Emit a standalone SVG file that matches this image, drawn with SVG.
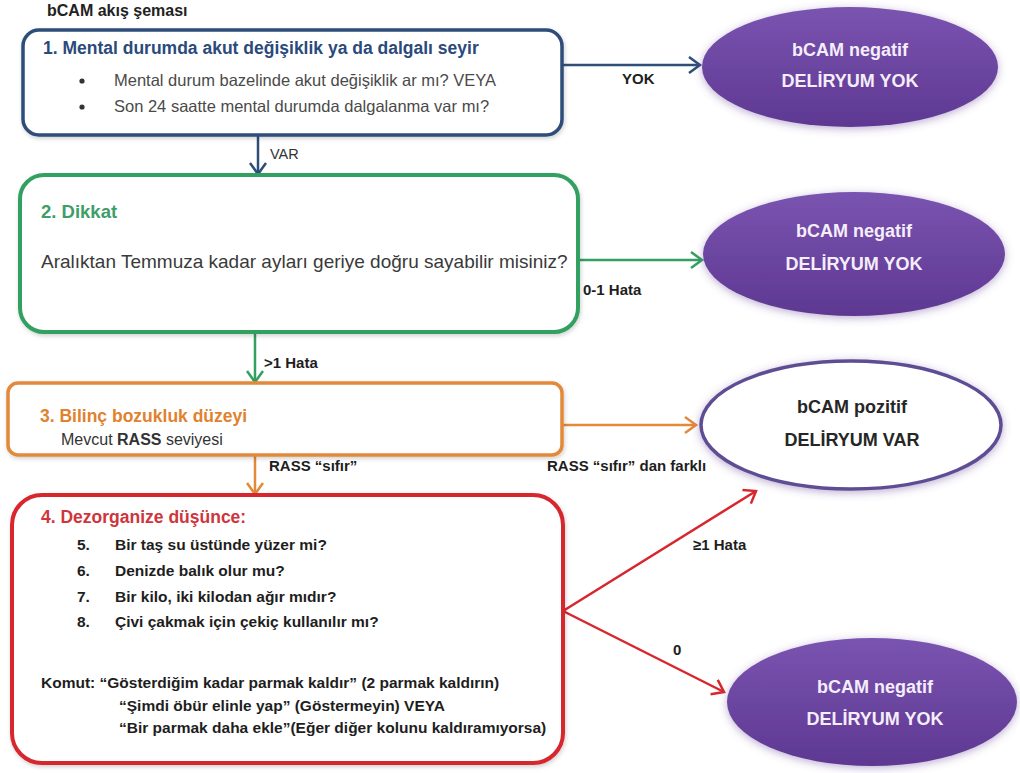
<svg xmlns="http://www.w3.org/2000/svg" width="1020" height="773" viewBox="0 0 1020 773">
<defs>
<style>
text{font-family:"Liberation Sans",Arial,sans-serif}
.b{font-weight:bold}
.box{fill:#fff}
.con{fill:none;stroke-width:2.5}
.etw{fill:#f4eefa;font-weight:bold;font-size:18px;text-anchor:middle}
.etd{fill:#262626;font-weight:bold;font-size:18px;text-anchor:middle}
.lbl{fill:#1e1e1e;font-weight:bold;font-size:15px}
.item{fill:#1e1e1e;font-weight:bold;font-size:15.5px}
</style>
<linearGradient id="pg" x1="0" y1="0" x2="0" y2="1">
<stop offset="0" stop-color="#7a54b0"/>
<stop offset="1" stop-color="#5e3892"/>
</linearGradient>
<filter id="glow" x="-20%" y="-30%" width="140%" height="160%">
<feDropShadow dx="0" dy="2" stdDeviation="4" flood-color="#6a4a9a" flood-opacity="0.45"/>
</filter>
<filter id="sh" x="-5%" y="-10%" width="110%" height="120%">
<feDropShadow dx="1" dy="2" stdDeviation="2" flood-color="#000" flood-opacity="0.18"/>
</filter>
<marker id="mb" markerUnits="userSpaceOnUse" markerWidth="16" markerHeight="20" refX="13" refY="9" orient="auto"><path d="M2,1 L13,9 L2,17" fill="none" stroke="#2e4e7a" stroke-width="2.5"/></marker>
<marker id="mg" markerUnits="userSpaceOnUse" markerWidth="16" markerHeight="20" refX="13" refY="9" orient="auto"><path d="M2,1 L13,9 L2,17" fill="none" stroke="#33a060" stroke-width="2.5"/></marker>
<marker id="mo" markerUnits="userSpaceOnUse" markerWidth="16" markerHeight="20" refX="13" refY="9" orient="auto"><path d="M2,1 L13,9 L2,17" fill="none" stroke="#e2893a" stroke-width="2.5"/></marker>
<marker id="mr" markerUnits="userSpaceOnUse" markerWidth="16" markerHeight="20" refX="13" refY="9" orient="auto"><path d="M2,1 L13,9 L2,17" fill="none" stroke="#d8262f" stroke-width="2.5"/></marker>
</defs>
<rect width="1020" height="773" fill="#fff"/>

<text x="47" y="16" class="b" font-size="16" fill="#222">bCAM akış şeması</text>

<g id="connectors">
<line class="con" x1="562" y1="65" x2="700" y2="65" stroke="#2e4e7a" marker-end="url(#mb)"/>
<line class="con" x1="258" y1="135" x2="258" y2="174" stroke="#2e4e7a" marker-end="url(#mb)"/>
<line class="con" x1="578" y1="260" x2="702" y2="260" stroke="#33a060" marker-end="url(#mg)"/>
<line class="con" x1="255" y1="332" x2="255" y2="382" stroke="#33a060" marker-end="url(#mg)"/>
<line class="con" x1="562" y1="425" x2="696" y2="425" stroke="#e2893a" marker-end="url(#mo)"/>
<line class="con" x1="255" y1="455" x2="255" y2="494" stroke="#e2893a" marker-end="url(#mo)"/>
<line class="con" x1="563" y1="611" x2="756" y2="491" stroke="#d8262f" marker-end="url(#mr)"/>
<line class="con" x1="563" y1="611" x2="724" y2="692" stroke="#d8262f" marker-end="url(#mr)"/>
<text x="270" y="159" font-size="14.5" fill="#333">VAR</text>
<text x="622" y="84" class="lbl">YOK</text>
<text x="583" y="295" class="lbl" font-size="17">0-1 Hata</text>
<text x="264" y="368" class="lbl" font-size="16">&gt;1 Hata</text>
<text x="269" y="471" class="lbl">RASS “sıfır”</text>
<text x="547" y="471" class="lbl">RASS “sıfır” dan farklı</text>
<text x="693" y="550" class="lbl">≥1 Hata</text>
<text x="673" y="655" class="lbl">0</text>
</g>

<g id="n1">
<rect class="box" x="23" y="30" width="539" height="105" rx="16" stroke="#2e4e7a" stroke-width="3.5" filter="url(#sh)"/>
<text x="43" y="54" class="b" font-size="17.5" fill="#2a4a7c">1. Mental durumda akut değişiklik ya da dalgalı seyir</text>
<circle cx="82" cy="81" r="2.6" fill="#333"/>
<circle cx="82" cy="107" r="2.6" fill="#333"/>
<text x="114" y="86" font-size="16.5" fill="#4a4a4a">Mental durum bazelinde akut değişiklik ar mı? VEYA</text>
<text x="114" y="112" font-size="16.5" fill="#4a4a4a">Son 24 saatte mental durumda dalgalanma var mı?</text>
</g>

<g id="n2">
<rect class="box" x="20" y="175" width="558" height="157" rx="24" stroke="#33a060" stroke-width="4" filter="url(#sh)"/>
<text x="41" y="218" class="b" font-size="18.5" fill="#3d9e68">2. Dikkat</text>
<text x="41" y="268" font-size="19" fill="#3a3a3a">Aralıktan Temmuza kadar ayları geriye doğru sayabilir misiniz?</text>
</g>

<g id="n3">
<rect class="box" x="8" y="383" width="554" height="72" rx="10" stroke="#e2893a" stroke-width="3.5" filter="url(#sh)"/>
<text x="40" y="422" class="b" font-size="17.5" fill="#e0822f">3. Bilinç bozukluk düzeyi</text>
<text x="61" y="445" font-size="16" fill="#333">Mevcut <tspan class="b">RASS</tspan> seviyesi</text>
</g>

<g id="n4">
<rect class="box" x="12" y="495" width="551" height="268" rx="30" stroke="#d8262f" stroke-width="4" filter="url(#sh)"/>
<text x="41" y="523" class="b" font-size="17.5" fill="#d0343c">4. Dezorganize düşünce:</text>
<text x="77" y="550" class="item">5.</text><text x="115" y="550" class="item">Bir taş su üstünde yüzer mi?</text>
<text x="77" y="576" class="item">6.</text><text x="115" y="576" class="item">Denizde balık olur mu?</text>
<text x="77" y="602" class="item">7.</text><text x="115" y="602" class="item">Bir kilo, iki kilodan ağır mıdır?</text>
<text x="77" y="627" class="item">8.</text><text x="115" y="627" class="item">Çivi çakmak için çekiç kullanılır mı?</text>
<text x="41" y="688" class="item" font-size="16">Komut: “Gösterdiğim kadar parmak kaldır” (2 parmak kaldırın)</text>
<text x="119" y="711" class="item">“Şimdi öbür elinle yap” (Göstermeyin) VEYA</text>
<text x="119" y="733" class="item">“Bir parmak daha ekle”(Eğer diğer kolunu kaldıramıyorsa)</text>
</g>

<g id="e1">
<ellipse cx="850" cy="67" rx="148" ry="60" fill="url(#pg)" filter="url(#glow)"/>
<text x="850" y="56" class="etw">bCAM negatif</text>
<text x="850" y="87" class="etw">DELİRYUM YOK</text>
</g>

<g id="e2">
<ellipse cx="854" cy="254" rx="151" ry="62" fill="url(#pg)" filter="url(#glow)"/>
<text x="854" y="237" class="etw">bCAM negatif</text>
<text x="854" y="270" class="etw">DELİRYUM YOK</text>
</g>

<g id="e3">
<ellipse cx="851" cy="425" rx="150" ry="64" fill="#fff" stroke="#5f4e94" stroke-width="3.5" filter="url(#glow)"/>
<text x="852" y="413" class="etd">bCAM pozitif</text>
<text x="852" y="446" class="etd">DELİRYUM VAR</text>
</g>

<g id="e4">
<ellipse cx="872" cy="702" rx="145" ry="64" fill="url(#pg)" filter="url(#glow)"/>
<text x="875" y="693" class="etw">bCAM negatif</text>
<text x="875" y="725" class="etw">DELİRYUM YOK</text>
</g>
</svg>
